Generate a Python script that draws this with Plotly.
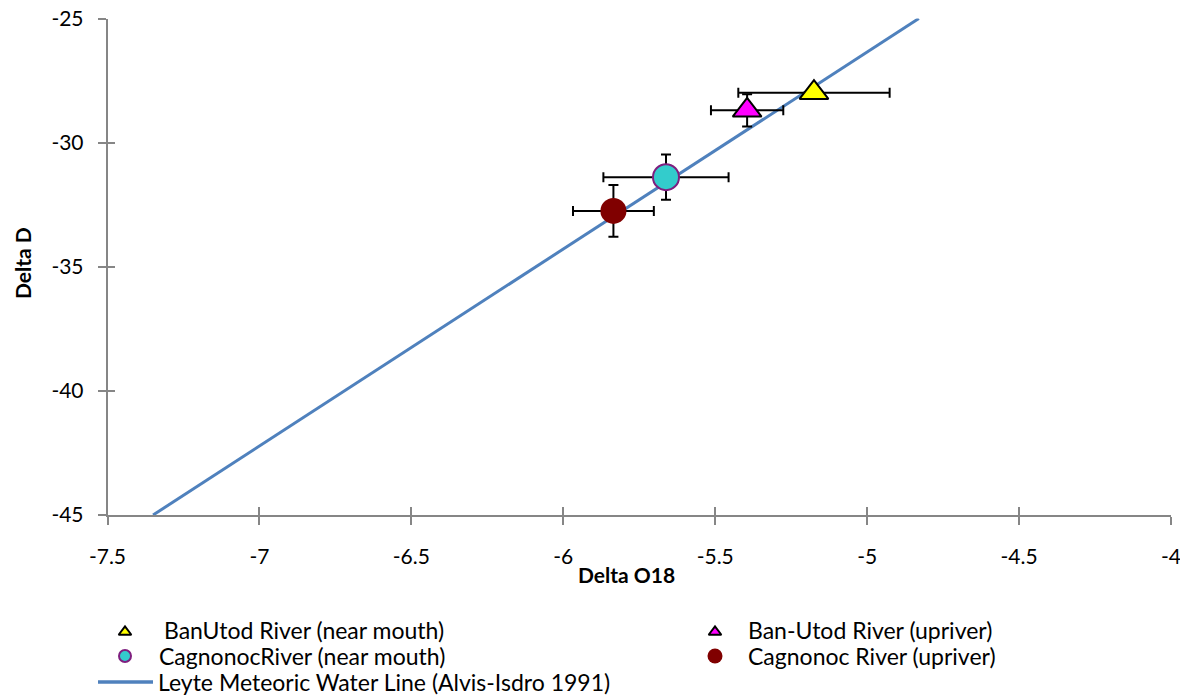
import plotly.graph_objects as go

# ---------------- data ----------------
series_names = [
    "BanUtod River (near mouth)",
    "Ban-Utod River (upriver)",
    "CagnonocRiver (near mouth)",
    "Cagnonoc River (upriver)",
]
delta_o18 = [-5.175, -5.395, -5.662, -5.835]
delta_d = [-27.99, -28.70, -31.39, -32.75]
err_o18 = [0.249, 0.119, 0.206, 0.133]
err_d = [0.0, 0.65, 0.91, 1.04]

lmwl_name = "Leyte Meteoric Water Line (Alvis-Isdro 1991)"
lmwl_x = [-7.35, -4.83]
lmwl_y = [-45.0, -25.0]

x_ticks = [-7.5, -7, -6.5, -6, -5.5, -5, -4.5, -4]
x_tick_labels = ["-7.5", "-7", "-6.5", "-6", "-5.5", "-5", "-4.5", "-4"]
y_ticks = [-45, -40, -35, -30, -25]
y_tick_labels = ["-45", "-40", "-35", "-30", "-25"]

# ---------------- styles ----------------
symbols = ["triangle-up", "triangle-up", "circle", "circle"]
fills = ["#FFFF00", "#FF00FF", "#33CCCC", "#800000"]
outlines = ["#000000", "#000000", "#7F1F7F", "#800000"]
outline_w = [2, 2, 2, 0]
sizes = [25, 25, 26, 26]
legend_sizes = [11, 11, 12, 15]
LINE_COLOR = "#4F81BD"

FONT = "Lato, 'Open Sans', sans-serif"
AXIS_GREY = "#868686"

# page is 1188x696; the browser body has an 8px margin, so the figure is
# made 8px smaller and all page positions are shifted by 8px.
OFF = 8
W, H = 1188 - OFF, 696 - OFF


def px(v):
    return v - OFF


# plot-area placement (page pixels)
PL, PR, PT, PB = 107.5, 1171, 18.5, 515

fig = go.Figure()

# meteoric water line (under markers)
fig.add_trace(go.Scatter(
    x=lmwl_x, y=lmwl_y, mode="lines", name=lmwl_name,
    line=dict(color=LINE_COLOR, width=3), showlegend=False, hoverinfo="skip",
))

for i in range(4):
    fig.add_trace(go.Scatter(
        x=[delta_o18[i]], y=[delta_d[i]],
        mode="markers", name=series_names[i], showlegend=False,
        marker=dict(symbol=symbols[i], color=fills[i], size=sizes[i],
                    line=dict(color=outlines[i], width=outline_w[i])),
        error_x=dict(type="data", array=[err_o18[i]], color="black", thickness=2, width=5),
        error_y=dict(type="data", array=[err_d[i]], color="black", thickness=2, width=5,
                     visible=err_d[i] > 0),
    ))

# invisible trace so the overlay (crossing-tick) axes render
fig.add_trace(go.Scatter(x=[-7.5], y=[-45], xaxis="x2", yaxis="y2", mode="markers",
                         marker=dict(opacity=0), showlegend=False, hoverinfo="skip"))

# ---------------- manual legend (pixel-coordinate overlay axes) ----------------
leg_rows = [630, 630, 656, 656]
leg_sym_x = [125, 715, 125, 715]
leg_text_x = [162, 746, 157, 746]
for i in range(4):
    fig.add_trace(go.Scatter(
        x=[px(leg_sym_x[i])], y=[px(leg_rows[i] + (2 if symbols[i] == "triangle-up" else 0))],
        xaxis="x3", yaxis="y3", mode="markers", showlegend=False, hoverinfo="skip",
        marker=dict(symbol=symbols[i], color=fills[i], size=legend_sizes[i],
                    line=dict(color=outlines[i], width=outline_w[i])),
    ))
LEG_LINE_Y = 682
fig.add_trace(go.Scatter(
    x=[px(98), px(153)], y=[px(LEG_LINE_Y), px(LEG_LINE_Y)], xaxis="x3", yaxis="y3",
    mode="lines", line=dict(color=LINE_COLOR, width=3.5), showlegend=False, hoverinfo="skip",
))

annotations = []
for i in range(4):
    annotations.append(dict(
        x=px(leg_text_x[i]) / W, y=1 - px(leg_rows[i]) / H, xref="paper", yref="paper",
        xanchor="left", yanchor="middle", showarrow=False, text=series_names[i],
        font=dict(family=FONT, size=23, color="black")))
annotations.append(dict(
    x=px(156) / W, y=1 - px(LEG_LINE_Y) / H, xref="paper", yref="paper",
    xanchor="left", yanchor="middle", showarrow=False, text=lmwl_name,
    font=dict(family=FONT, size=23, color="black")))

# axis titles
annotations.append(dict(x=px(626) / W, y=1 - px(574) / H, xref="paper", yref="paper",
                        xanchor="center", yanchor="middle", showarrow=False,
                        text="<b>Delta O18</b>", font=dict(family=FONT, size=21, color="black")))
annotations.append(dict(x=px(22) / W, y=1 - px(263) / H, xref="paper", yref="paper",
                        xanchor="center", yanchor="middle", showarrow=False, textangle=-90,
                        text="<b>Delta D</b>", font=dict(family=FONT, size=21, color="black")))

xdom = [px(PL) / W, px(PR) / W]
ydom = [1 - px(PB) / H, 1 - px(PT) / H]

axis_common = dict(showgrid=False, zeroline=False, showline=True, linecolor=AXIS_GREY,
                   tickcolor=AXIS_GREY, ticklen=8, tickwidth=1.5)

fig.update_layout(
    width=W, height=H,
    paper_bgcolor="white", plot_bgcolor="rgba(0,0,0,0)",
    margin=dict(l=0, r=0, t=0, b=0, pad=0),
    font=dict(family=FONT, size=21, color="black"),
    showlegend=False,
    xaxis=dict(domain=xdom, range=[-7.5, -4], tickvals=x_ticks, ticktext=x_tick_labels,
               ticks="outside", ticklabelstandoff=14, linewidth=2, anchor="y",
               automargin=False, ticklabeloverflow="allow", **axis_common),
    yaxis=dict(domain=ydom, range=[-45, -25], tickvals=y_ticks, ticktext=y_tick_labels,
               ticks="outside", ticklabelstandoff=10, linewidth=1.5, anchor="x",
               automargin=False, ticklabeloverflow="allow", **axis_common),
    xaxis2=dict(range=[-7.5, -4], tickvals=x_ticks, showticklabels=False, ticks="inside",
                overlaying="x", anchor="y2", side="bottom", linewidth=2, **axis_common),
    yaxis2=dict(range=[-45, -25], tickvals=y_ticks, showticklabels=False, ticks="inside",
                overlaying="y", anchor="x2", side="left", linewidth=1.5, **axis_common),
    xaxis3=dict(domain=[0, 1], range=[0, W], visible=False, fixedrange=True, anchor="y3"),
    yaxis3=dict(domain=[0, 1], range=[H, 0], visible=False, fixedrange=True, anchor="x3"),
    annotations=annotations,
)

fig.write_html("out.html")
